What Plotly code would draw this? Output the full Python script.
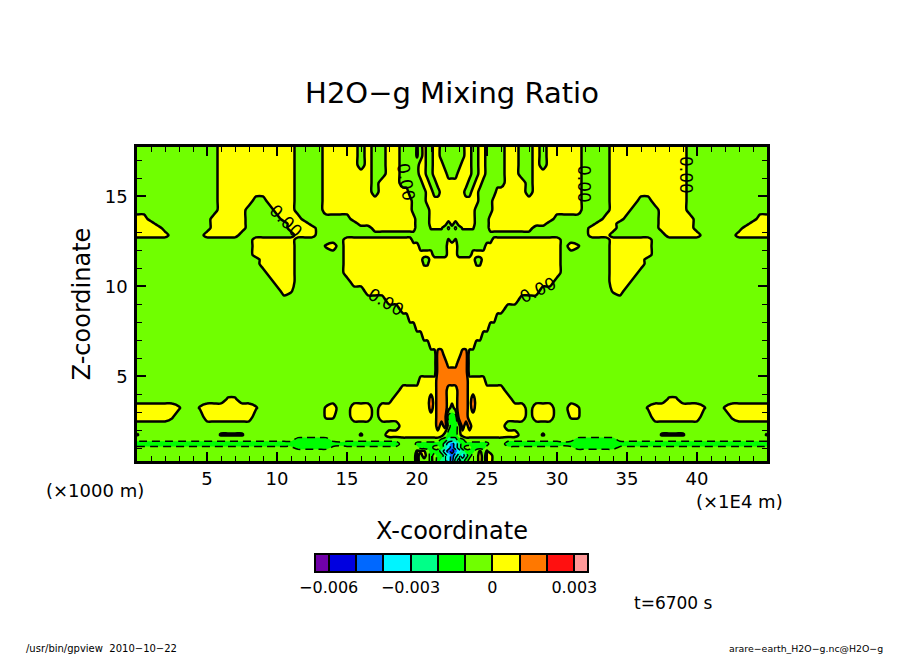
import numpy as np
import plotly.graph_objects as go

# grid: x in 1E4 m (finer around the centre plume), z in 1000 m, top row first
x_coord = np.concatenate([np.arange(0, 19, 0.5), np.arange(19, 26.25, 0.25), np.arange(26.5, 45.5, 0.5)])
z_coord = [17.75, 17.25, 16.75, 16.25, 15.75, 15.25, 14.75, 14.25, 13.75, 13.5, 13.25, 12.85, 12.6, 12.25, 11.75, 11.5,
           11.25, 10.75, 10.25, 9.75, 9.25, 8.75, 8.25, 7.75, 7.25, 6.75, 6.25, 5.75, 5.25, 4.75, 4.25, 3.75, 3.25,
           2.75, 2.25, 1.75, 1.45, 1.25, 1.05, 0.85, 0.6, 0.3]

# value of the colour band each letter stands for
band_value = {".": -0.0005, "h": -0.0008, "y": 0.0005, "o": 0.0015, "g": -0.0015, "s": -0.0025, "c": -0.0035,
              "a": -0.0045, "b": -0.0055, "t": 0.0001, "n": -0.0001}

# bands, one string per z row: x = 0..18.5
left_rows = [
    "............yyyyyyyyyyy....yyyyy.y..yy",
    "............yyyyyyyyyyy....yyyyy.y..yy",
    "............yyyyyyyyyyy....yyyyy.y..yy",
    "............yyyyyyyyyyy....yyyyyyy..yy",
    "............yyyyyyyyyyy....yyyyyyy.yyy",
    "............yyyyyyyyyyy....yyyyyyy.yyy",
    "............yyyyy..yyyy....yyyyyyyyyyy",
    "............yyyy....yyy....yyyyyyyyyyy",
    "yy.........yyyyy.....yyy.......yyyyyyy",
    "yyy........yyyyy......yyy.......yyyyyy",
    "yyyy.......yyyyy......yyyy........yyyy",
    "yyyyy.....yyyyy........yyy............",
    ".................yyyyyy.......yyyyyyyy",
    ".................yyyyyy....ty.yyyyyyyy",
    ".................yyyyyy.......yyyyyyyy",
    "..................yyyyy.......yyyyyyyy",
    "..................yyyyy.......yyyyyyyy",
    "...................yyyy.......yyyyyyyy",
    "....................yyy........yyyyyyy",
    ".....................yt..........yyyyy",
    "....................................yy",
    "......................................",
    "......................................",
    "......................................",
    "......................................",
    "......................................",
    "......................................",
    "......................................",
    "......................................",
    "......................................",
    "......................................",
    ".............tt......................y",
    "yyyyyyt..tyyyyyyyt.........ty..yyy.yyy",
    "yyyyyt....yyyyyyy..........tt..yyy.yyy",
    "......................................",
    "t...........tttt................t...yy",
    "hhhhhhhhhhhhhhhhhhhhhhhgggggh.hhhhhhhh",
    "gggggggggggggggggggggggggggggggggggggg",
    "hhhhhhhhhhhhhhhhhhhhhhhgggggh.hhhhhhhh",
    "......................................",
    "......................................",
    "......................................",
]

# x = 19..26
center_rows = [
    "....t.y..yy.......yy..yy.....",
    "....t.y..yy.......yy..yy.....",
    ".....yy..yyy.....yyy..yy.....",
    ".....yy..yyyy...yyyy..yy.....",
    "......yy..yyyyyyyyy..yy......",
    "yy.....yy..yyyyyyy..yy.....yy",
    "yyy....yyyyyyyyyyyyyyy....yyy",
    "yyy.....yyyyyyyyyyyyy.....yyy",
    "yyyy....yyyyyyyyyyyyy....yyyy",
    "yyyy....yyyyy.y.yyyyy....yyyy",
    "yyyy....tttt.t.t.tttt....yyyy",
    ".............................",
    "yyy..........t.t..........yyy",
    "yyyyy........yyy........yyyyy",
    "yyyyyyyyy....yyy....yyyyyyyyy",
    "yyyyyy..yyyyyyyyyyyyy..yyyyyy",
    "yyyyyynnyyyyyyyyyyyyynnyyyyyy",
    "yyyyyyyyyyyyyyyyyyyyyyyyyyyyy",
    "yyyyyyyyyyyyyyyyyyyyyyyyyyyyy",
    "yyyyyyyyyyyyyyyyyyyyyyyyyyyyy",
    "yyyyyyyyyyyyyyyyyyyyyyyyyyyyy",
    "yyyyyyyyyyyyyyyyyyyyyyyyyyyyy",
    "..yyyyyyyyyyyyyyyyyyyyyyyyy..",
    "....yyyyyyyyyyyyyyyyyyyyy....",
    "......yyyyyyyyyyyyyyyyy......",
    "........yyyyyyyyyyyyy........",
    "..........ooyyyyyoo..........",
    "..........oooyyyooo..........",
    "..........ooooooooo..........",
    ".....yyyyyoooooooooyyyyy.....",
    "yyyyyyyyyyoooyyyoooyyyyyyyyyy",
    "yyyyyyyyoyoooyyyoooyoyyyyyyyy",
    "yyyyyyyyoyoooy.yoooyoyyyyyyyy",
    "yyyyyyyyyyooogggoooyyyyyyyyyy",
    "yyyyyyyyyyoyo.gg.oyoyyyyyyyyy",
    "yyyyyyyyyyyy.ggg.yyyyyyyyyyyy",
    "...........ggsssgg...........",
    "....ggggggggscacsgggggggg....",
    ".....gggg..gscacsg..gggg.....",
    "....ttt.gggscabacsggg.t.t....",
    "....y.y.g.ggscacscsg..y.yy...",
    "....y...g.gsscascsg...y.yy...",
]

# x = 26.5..45
right_rows = [
    "yy..y.yyyyy....yyyyyyyyyyy............",
    "yy..y.yyyyy....yyyyyyyyyyy............",
    "yy..y.yyyyy....yyyyyyyyyyy............",
    "yy..yyyyyyy....yyyyyyyyyyy............",
    "yyy.yyyyyyy....yyyyyyyyyyy............",
    "yyy.yyyyyyy....yyyyyyyyyyy............",
    "yyyyyyyyyyy....yyyy..yyyyy............",
    "yyyyyyyyyyy....yyy....yyyy............",
    "yyyyyyy.......yyy.....yyyyy.........yy",
    "yyyyyy.......yyy......yyyyy........yyy",
    "yyyy........yyyy......yyyyy.......yyyy",
    "............yyy........yyyyy.....yyyyy",
    "yyyyyyyy.......yyyyyy.................",
    "yyyyyyyy.yt....yyyyyy.................",
    "yyyyyyyy.......yyyyyy.................",
    "yyyyyyyy.......yyyyy..................",
    "yyyyyyyy.......yyyyy..................",
    "yyyyyyyy.......yyyy...................",
    "yyyyyyy........yyy....................",
    "yyyyy..........ty.....................",
    "yy....................................",
    "......................................",
    "......................................",
    "......................................",
    "......................................",
    "......................................",
    "......................................",
    "......................................",
    "......................................",
    "......................................",
    "......................................",
    "y......................tt.............",
    "yyy.yyy..yt.........tyyyyyyyt..tyyyyyy",
    "yyy.yyy..tt..........yyyyyyy....tyyyyy",
    "......................................",
    "yy...t................tttt...........t",
    "hhhhhhhh.hgggggghhhhhhhhhhhhhhhhhhhhhh",
    "gggggggggggggggggggggggggggggggggggggg",
    "hhhhhhhh.hgggggghhhhhhhhhhhhhhhhhhhhhh",
    "......................................",
    "......................................",
    "......................................",
]

band_colors = ["#7000a8", "#0000e0", "#0068ff", "#00f4ff", "#00ff88", "#00ff00",
               "#70ff00", "#ffff00", "#ff7800", "#ff1010", "#ff9999"]
colorbar_ticks = [-0.006, -0.003, 0, 0.003]
colorbar_labels = ["\u22120.006", "\u22120.003", "0", "0.003"]
x_ticks = [5, 10, 15, 20, 25, 30, 35, 40]
z_ticks = [5, 10, 15]

rows = []
for l, c, r in zip(left_rows, center_rows, right_rows):
    cells = l.ljust(38, ".")[:38] + c.ljust(29, ".")[:29] + r.ljust(38, ".")[:38]
    rows.append([band_value[ch] for ch in cells])
mixing_ratio = rows[::-1]
z_up = z_coord[::-1]

FONT = "DejaVu Sans"
# the page puts the figure 8 px in from the window corner
PAGE = 8
W, H = 904 - PAGE, 654 - PAGE
L, R, T, B = 137, 767, 147, 461

fig = go.Figure()

# this one only gives the colorbar its black separators, the next trace paints over its lines
fig.add_trace(go.Contour(x=x_coord, y=z_up, z=mixing_ratio, colorscale=[[i / 10, c] for i, c in enumerate(band_colors)],
                         contours=dict(start=-0.006, end=0.003, size=0.001, coloring="fill"),
                         line=dict(color="black", width=2, smoothing=0.8),
                         colorbar=dict(orientation="h", xref="paper", yref="paper",
                                       x=((315 + 588) / 2 - L) / (R - L), y=(B - 593) / (B - T),
                                       xanchor="center", yanchor="bottom",
                                       lenmode="pixels", len=273, thicknessmode="pixels", thickness=18,
                                       xpad=0, ypad=0, outlinecolor="black", outlinewidth=2,
                                       tickvals=colorbar_ticks, ticktext=colorbar_labels, ticks="",
                                       tickfont=dict(family=FONT, size=16, color="black"))))
fig.add_trace(go.Contour(x=x_coord, y=z_up, z=mixing_ratio, colorscale=[[i / 10, c] for i, c in enumerate(band_colors)],
                         contours=dict(start=-0.006, end=0.003, size=0.001, coloring="fill"),
                         line=dict(width=0, smoothing=0.8), showscale=False))
# negative levels dashed, the others solid
fig.add_trace(go.Contour(x=x_coord, y=z_up, z=mixing_ratio, showscale=False,
                         contours=dict(start=-0.006, end=-0.001, size=0.001, coloring="none"),
                         line=dict(color="black", width=1.5, dash="8px,5px", smoothing=0.8)))
fig.add_trace(go.Contour(x=x_coord, y=z_up, z=mixing_ratio, showscale=False,
                         contours=dict(start=0, end=0.003, size=0.001, coloring="none"),
                         line=dict(color="black", width=2.5, smoothing=0.8)))


def label(text, px, py, size, angle=0):
    fig.add_annotation(text=text, x=(px - L) / (R - L), y=(B - py) / (B - T), xref="paper", yref="paper",
                       showarrow=False, textangle=angle, xanchor="center", yanchor="middle",
                       font=dict(family=FONT, size=size, color="black"))


label("(\u00d71000 m)", 95, 490, 18)
label("(\u00d71E4 m)", 739, 501, 18)
label("t=6700 s", 673, 603, 17)
label("/usr/bin/gpview\u00a0\u00a02010\u221210\u221222", 101, 648, 10)
label("arare\u2212earth_H2O\u2212g.nc@H2O\u2212g", 806, 648, 9.4)
for px, py, ang in [(286, 221, 45), (386, 302, 30), (406, 182, 80), (538, 290, -25), (584, 184, 90), (686, 175, 90)]:
    label("0.00", px, py, 17, ang)

axis_style = dict(showline=True, linecolor="black", linewidth=2.5, mirror="ticks", showgrid=False, zeroline=False,
                  ticks="inside", ticklen=9, tickwidth=2, tickcolor="black",
                  tickfont=dict(family=FONT, size=18, color="black"),
                  minor=dict(ticks="inside", dtick=1, ticklen=5, tickwidth=1, tickcolor="black", showgrid=False))

fig.update_layout(width=W, height=H, autosize=False,
                  margin=dict(l=L - PAGE, r=904 - R, t=T - PAGE, b=654 - B, autoexpand=False),
                  paper_bgcolor="white", plot_bgcolor="white", showlegend=False,
                  title=dict(text="H2O\u2212g Mixing Ratio", x=(452 - PAGE) / W, xanchor="center",
                             y=1 - (93 - PAGE) / H, yanchor="middle",
                             font=dict(family=FONT, size=29, color="black")))
fig.update_xaxes(range=[0, 45], tickvals=x_ticks, ticklabelstandoff=0, **axis_style,
                 title=dict(text="X-coordinate", standoff=34, font=dict(family=FONT, size=24, color="black")))
fig.update_yaxes(range=[0.3, 17.75], tickvals=z_ticks, ticklabelstandoff=3, **axis_style,
                 title=dict(text="Z-coordinate", standoff=8, font=dict(family=FONT, size=24, color="black")))

fig.write_html("out.html")
